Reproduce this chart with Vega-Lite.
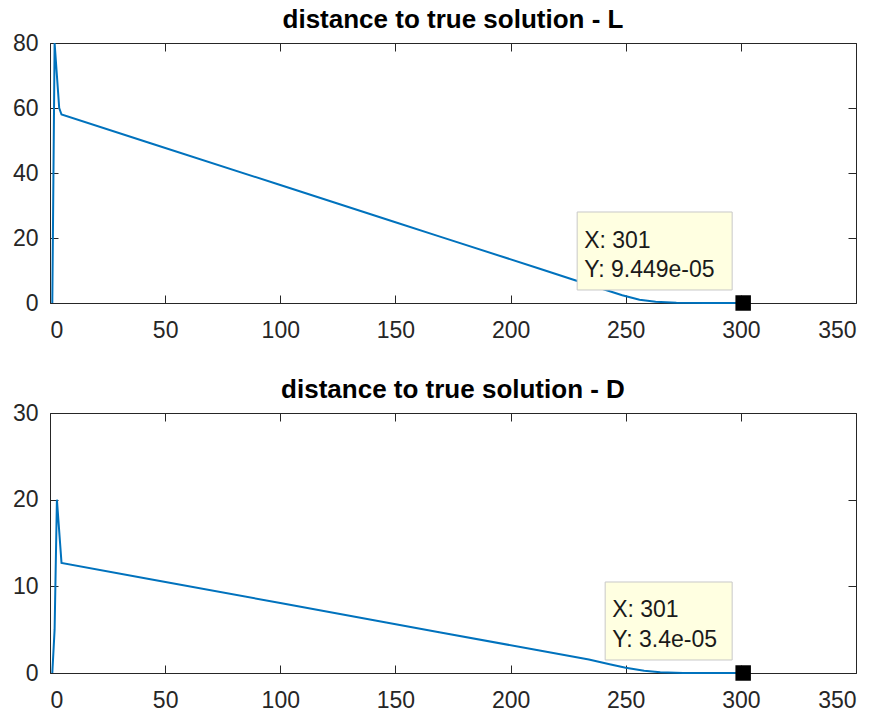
{
  "$schema": "https://vega.github.io/schema/vega-lite/v6.json",
  "background": "white",
  "padding": {"left": 12, "top": 7, "right": 10, "bottom": 5},
  "spacing": 35,
  "config": {
    "view": {"stroke": null},
    "font": "Liberation Sans",
    "axis": {
      "grid": false,
      "domainColor": "#262626",
      "domainWidth": 1,
      "tickColor": "#262626",
      "tickSize": -8,
      "labelColor": "#262626",
      "labelFont": "Liberation Sans",
      "labelFontSize": 23,
      "title": null
    },
    "axisX": {"labelPadding": 24},
    "axisY": {"labelPadding": 20},
    "title": {"font": "Liberation Sans", "fontSize": 26, "fontWeight": "bold", "color": "#000000", "offset": -1}
  },
  "vconcat": [
    {
      "title": "distance to true solution - L",
      "width": 806,
      "height": 260,
      "resolve": {"axis": {"x": "independent", "y": "independent"}},
      "layer": [
        {
          "data": {"values": [
            {"x": 1, "y": 0}, {"x": 2, "y": 80}, {"x": 4, "y": 60}, {"x": 5, "y": 58},
            {"x": 43, "y": 49.3}, {"x": 100, "y": 36.3}, {"x": 149, "y": 25.1}, {"x": 169, "y": 20.5},
            {"x": 212, "y": 10.7}, {"x": 228, "y": 7.0}, {"x": 240, "y": 4.3}, {"x": 248.5, "y": 2.4},
            {"x": 256, "y": 1.0}, {"x": 263, "y": 0.35}, {"x": 272, "y": 0.08}, {"x": 285, "y": 0.005},
            {"x": 301, "y": 9.449e-05}
          ]},
          "mark": {"type": "line", "color": "#0072BD", "strokeWidth": 2},
          "encoding": {
            "x": {"field": "x", "type": "quantitative", "scale": {"domain": [0, 350], "nice": false}, "axis": {"orient": "bottom", "values": [0, 50, 100, 150, 200, 250, 300, 350]}},
            "y": {"field": "y", "type": "quantitative", "scale": {"domain": [0, 80], "nice": false}, "axis": {"orient": "left", "values": [0, 20, 40, 60, 80]}}
          }
        },
        {
          "data": {"values": [{"x": 301, "y": 9.449e-05, "lx": "X: 301", "ly": "Y: 9.449e-05"}]},
          "layer": [
            {
              "mark": {"type": "rect", "width": 155, "height": 78, "xOffset": -88.5, "yOffset": -52, "fill": "#FFFFE1", "stroke": "#C8C8C8", "strokeWidth": 1},
              "encoding": {
                "x": {"field": "x", "type": "quantitative", "axis": {"orient": "top", "labels": false, "domain": true, "values": [0, 50, 100, 150, 200, 250, 300, 350]}},
                "y": {"field": "y", "type": "quantitative", "axis": {"orient": "right", "labels": false, "domain": true, "values": [0, 20, 40, 60, 80]}}
              }
            },
            {
              "mark": {"type": "text", "align": "left", "baseline": "alphabetic", "dx": -159, "dy": -55, "font": "Liberation Sans", "fontSize": 23, "color": "#1a1a1a"},
              "encoding": {"x": {"field": "x", "type": "quantitative"}, "y": {"field": "y", "type": "quantitative"}, "text": {"field": "lx"}}
            },
            {
              "mark": {"type": "text", "align": "left", "baseline": "alphabetic", "dx": -159, "dy": -26, "font": "Liberation Sans", "fontSize": 23, "color": "#1a1a1a"},
              "encoding": {"x": {"field": "x", "type": "quantitative"}, "y": {"field": "y", "type": "quantitative"}, "text": {"field": "ly"}}
            },
            {
              "mark": {"type": "point", "shape": "square", "size": 240, "filled": true, "color": "#000000", "opacity": 1},
              "encoding": {"x": {"field": "x", "type": "quantitative"}, "y": {"field": "y", "type": "quantitative"}}
            }
          ]
        }
      ]
    },
    {
      "title": "distance to true solution - D",
      "width": 806,
      "height": 260,
      "resolve": {"axis": {"x": "independent", "y": "independent"}},
      "layer": [
        {
          "data": {"values": [
            {"x": 1, "y": 0}, {"x": 2, "y": 5}, {"x": 3, "y": 20}, {"x": 5, "y": 12.7},
            {"x": 43, "y": 10.85}, {"x": 100, "y": 8.07}, {"x": 146, "y": 5.83}, {"x": 169, "y": 4.71},
            {"x": 212, "y": 2.62}, {"x": 234, "y": 1.55}, {"x": 243, "y": 1.0}, {"x": 250, "y": 0.6},
            {"x": 258, "y": 0.25}, {"x": 265, "y": 0.08}, {"x": 275, "y": 0.01}, {"x": 288, "y": 0.0006},
            {"x": 301, "y": 3.4e-05}
          ]},
          "mark": {"type": "line", "color": "#0072BD", "strokeWidth": 2},
          "encoding": {
            "x": {"field": "x", "type": "quantitative", "scale": {"domain": [0, 350], "nice": false}, "axis": {"orient": "bottom", "values": [0, 50, 100, 150, 200, 250, 300, 350]}},
            "y": {"field": "y", "type": "quantitative", "scale": {"domain": [0, 30], "nice": false}, "axis": {"orient": "left", "values": [0, 10, 20, 30]}}
          }
        },
        {
          "data": {"values": [{"x": 301, "y": 3.4e-05, "lx": "X: 301", "ly": "Y: 3.4e-05"}]},
          "layer": [
            {
              "mark": {"type": "rect", "width": 127, "height": 78, "xOffset": -74.5, "yOffset": -52, "fill": "#FFFFE1", "stroke": "#C8C8C8", "strokeWidth": 1},
              "encoding": {
                "x": {"field": "x", "type": "quantitative", "axis": {"orient": "top", "labels": false, "domain": true, "values": [0, 50, 100, 150, 200, 250, 300, 350]}},
                "y": {"field": "y", "type": "quantitative", "axis": {"orient": "right", "labels": false, "domain": true, "values": [0, 10, 20, 30]}}
              }
            },
            {
              "mark": {"type": "text", "align": "left", "baseline": "alphabetic", "dx": -131, "dy": -56, "font": "Liberation Sans", "fontSize": 23, "color": "#1a1a1a"},
              "encoding": {"x": {"field": "x", "type": "quantitative"}, "y": {"field": "y", "type": "quantitative"}, "text": {"field": "lx"}}
            },
            {
              "mark": {"type": "text", "align": "left", "baseline": "alphabetic", "dx": -131, "dy": -26, "font": "Liberation Sans", "fontSize": 23, "color": "#1a1a1a"},
              "encoding": {"x": {"field": "x", "type": "quantitative"}, "y": {"field": "y", "type": "quantitative"}, "text": {"field": "ly"}}
            },
            {
              "mark": {"type": "point", "shape": "square", "size": 240, "filled": true, "color": "#000000", "opacity": 1},
              "encoding": {"x": {"field": "x", "type": "quantitative"}, "y": {"field": "y", "type": "quantitative"}}
            }
          ]
        }
      ]
    }
  ]
}
